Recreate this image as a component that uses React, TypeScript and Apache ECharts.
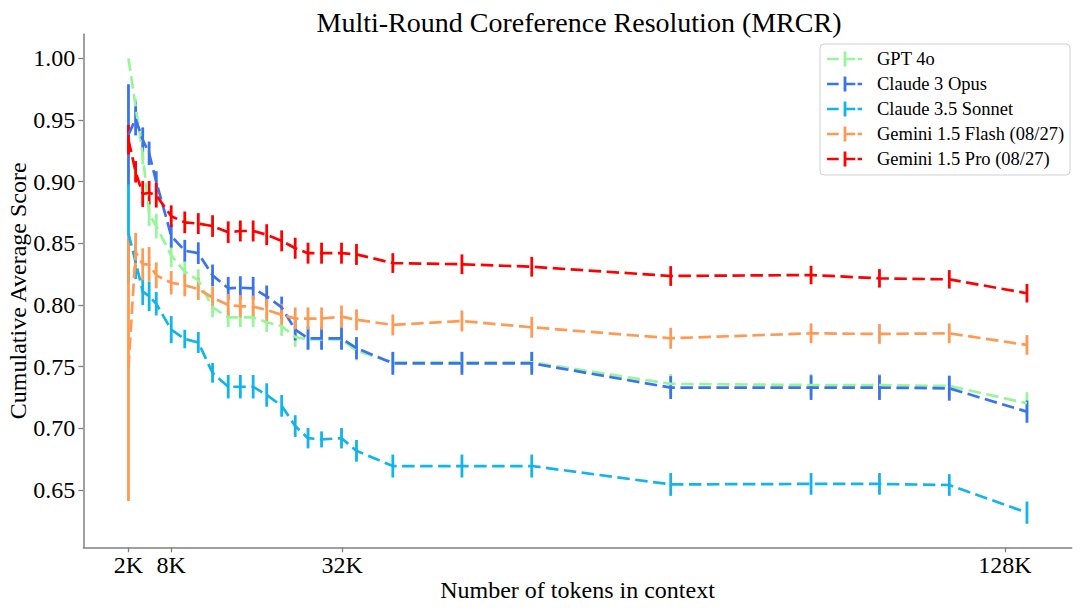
import React, { useEffect, useRef } from "react";
import * as echarts from "echarts";

// x positions in K tokens (1K = 1024 tokens)
const xK = [2, 3, 4, 4.9, 5.9, 8, 9.9, 11.8, 13.8, 16, 17.7, 19.5, 21.4, 23.5, 25.4, 27.2, 29.1, 31.9, 34, 39.1, 48.8, 58.6, 78.1, 97.8, 107.4, 117.2, 128.1];

const seriesNames = ["GPT 4o", "Claude 3 Opus", "Claude 3.5 Sonnet", "Gemini 1.5 Flash (08/27)", "Gemini 1.5 Pro (08/27)"];
const seriesColors = ["#98F59C", "#3B73EF", "#12B4EA", "#FF9A55", "#FF0000"];

const gpt4o = [1.0, 0.961, 0.922, 0.874, 0.864, 0.84, 0.827, 0.82, 0.798, 0.79, 0.79, 0.79, 0.786, 0.783, 0.774, 0.772, 0.772, 0.772, 0.763, 0.7535, 0.7535, 0.7535, 0.736, 0.7351, 0.735, 0.7343, 0.7203];
const gpt4oErr = [0.0, 0.006, 0.008, 0.01, 0.01, 0.0095, 0.009, 0.009, 0.008, 0.008, 0.008, 0.008, 0.008, 0.008, 0.008, 0.008, 0.008, 0.008, 0.008, 0.008, 0.008, 0.008, 0.008, 0.009, 0.009, 0.009, 0.009];

const opus = [0.938, 0.951, 0.934, 0.923, 0.9, 0.856, 0.844, 0.842, 0.824, 0.8135, 0.814, 0.8135, 0.807, 0.798, 0.78, 0.773, 0.773, 0.773, 0.765, 0.7527, 0.7527, 0.7527, 0.733, 0.733, 0.733, 0.7324, 0.7135];
const opusErr = [0.041, 0.0135, 0.01, 0.0095, 0.0085, 0.0095, 0.0088, 0.0088, 0.0088, 0.0093, 0.0093, 0.0093, 0.0088, 0.0088, 0.0088, 0.0093, 0.0093, 0.0093, 0.009, 0.0093, 0.0093, 0.0093, 0.0093, 0.01, 0.01, 0.01, 0.009];

const sonnet = [0.858, 0.835, 0.811, 0.807, 0.801, 0.78, 0.7724, 0.7696, 0.745, 0.7337, 0.7337, 0.7337, 0.727, 0.7182, 0.7018, 0.692, 0.691, 0.692, 0.6817, 0.6694, 0.6694, 0.6694, 0.6545, 0.6549, 0.6549, 0.654, 0.6316];
const sonnetErr = [0.04, 0.014, 0.011, 0.012, 0.0095, 0.011, 0.0075, 0.0085, 0.008, 0.0095, 0.0095, 0.0095, 0.0095, 0.0088, 0.0088, 0.0083, 0.0065, 0.0083, 0.0088, 0.0093, 0.0093, 0.0093, 0.0093, 0.0088, 0.0088, 0.0088, 0.009];

const flash = [0.749, 0.843, 0.833, 0.833, 0.824, 0.818, 0.816, 0.813, 0.806, 0.8, 0.799, 0.7986, 0.796, 0.792, 0.789, 0.789, 0.789, 0.7905, 0.788, 0.7838, 0.787, 0.7819, 0.773, 0.777, 0.7765, 0.777, 0.7676];
const flashErr = [0.108, 0.0155, 0.013, 0.014, 0.0105, 0.0095, 0.009, 0.009, 0.009, 0.009, 0.009, 0.009, 0.009, 0.009, 0.009, 0.009, 0.009, 0.009, 0.0085, 0.0085, 0.0085, 0.0085, 0.0085, 0.008, 0.008, 0.008, 0.008];

const pro = [0.934, 0.908, 0.89, 0.891, 0.889, 0.872, 0.867, 0.866, 0.864, 0.859, 0.86, 0.86, 0.857, 0.852, 0.846, 0.842, 0.842, 0.842, 0.841, 0.834, 0.833, 0.831, 0.8235, 0.8243, 0.8216, 0.8208, 0.8095];
const proErr = [0.012, 0.0087, 0.0105, 0.0095, 0.01, 0.0088, 0.0088, 0.0085, 0.0088, 0.0088, 0.0085, 0.0085, 0.0085, 0.0085, 0.0085, 0.0085, 0.0085, 0.0085, 0.0085, 0.008, 0.008, 0.008, 0.008, 0.0075, 0.0075, 0.0075, 0.0075];

const allValues = [gpt4o, opus, sonnet, flash, pro];
const allErrors = [gpt4oErr, opusErr, sonnetErr, flashErr, proErr];

const xTickValues = [2, 8, 32, 125];
const xTickLabels = ["2K", "8K", "32K", "128K"];
const yTickValues = [0.65, 0.7, 0.75, 0.8, 0.85, 0.9, 0.95, 1.0];

const FONT = "'Liberation Serif', 'Times New Roman', 'DejaVu Serif', serif";
const LEGEND_ICON =
  "path://M0,6.2h11.7v2.6H0z M16.6,0h2.8v15h-2.8z M19.4,6.2h8.9v2.6h-8.9z M30.6,6.2h4.4v2.6h-4.4z";

export default function App() {
  const ref = useRef<HTMLDivElement>(null);

  useEffect(() => {
    if (!ref.current) return;
    const chart = echarts.init(ref.current, undefined, { renderer: "svg" });

    const series: any[] = [];
    seriesNames.forEach((name, i) => {
      const color = seriesColors[i];
      const vals = allValues[i];
      const errs = allErrors[i];
      series.push({
        type: "line",
        name: name + " line",
        data: xK.map((x, j) => [x, vals[j]]),
        symbol: "none",
        lineStyle: { color, width: 2.7, type: [12.5, 5.5] },
        itemStyle: { color },
        z: 2,
        silent: true,
      });
      series.push({
        type: "custom",
        name,
        data: xK.map((x, j) => [x, vals[j], errs[j]]),
        encode: { x: 0, y: 1 },
        itemStyle: { color },
        z: 2,
        silent: true,
        renderItem: (params: any, api: any) => {
          const x = api.value(0);
          const y = api.value(1);
          const e = api.value(2);
          const p1 = api.coord([x, y + e]);
          const p2 = api.coord([x, y - e]);
          return {
            type: "line",
            shape: { x1: p1[0], y1: p1[1], x2: p2[0], y2: p2[1] },
            style: { stroke: color, lineWidth: 2.8, fill: null },
          };
        },
      });
    });

    const option: any = {
      animation: false,
      backgroundColor: "#ffffff",
      title: {
        text: "Multi-Round Coreference Resolution (MRCR)",
        left: 574,
        top: 3,
        textAlign: "center",
        textStyle: { fontFamily: FONT, fontSize: 28, fontWeight: "normal", color: "#000" },
      },
      legend: {
        orient: "vertical",
        left: 820,
        top: 44,
        padding: [5, 6, 6, 7],
        itemGap: 5,
        itemWidth: 35,
        itemHeight: 15,
        backgroundColor: "rgba(255,255,255,0.8)",
        borderColor: "#d0d0d0",
        borderWidth: 1,
        borderRadius: 4,
        textStyle: { fontFamily: FONT, fontSize: 18.5, color: "#000", lineHeight: 20, padding: [0, 0, 0, 10] },
        data: seriesNames.map((n, i) => ({ name: n, icon: LEGEND_ICON, itemStyle: { color: seriesColors[i] } })),
        selectedMode: false,
      },
      grid: { left: 83.3, right: 8.3, top: 34.3, bottom: 64.7, containLabel: false, outerBoundsMode: "none" },
      xAxis: {
        type: "value",
        min: -4.34,
        max: 134.38,
        name: "Number of tokens in context",
        nameLocation: "middle",
        nameGap: 31,
        nameMoveOverlap: false,
        nameTextStyle: { fontFamily: FONT, fontSize: 24, color: "#000" },
        axisLine: { show: true, onZero: false, lineStyle: { color: "#808080", width: 1.5 } },
        axisTick: { show: true, length: 5, customValues: xTickValues, lineStyle: { color: "#808080", width: 1.3 } },
        axisLabel: {
          customValues: xTickValues,
          margin: 6,
          fontFamily: FONT,
          fontSize: 24,
          color: "#000",
          formatter: (v: number) => {
            const idx = xTickValues.findIndex((t) => Math.abs(t - v) < 1e-6);
            return idx >= 0 ? xTickLabels[idx] : "";
          },
        },
        splitLine: { show: false },
      },
      yAxis: {
        type: "value",
        min: 0.6035,
        max: 1.0195,
        name: "Cumulative Average Score",
        nameLocation: "middle",
        nameGap: 53,
        nameMoveOverlap: false,
        nameTextStyle: { fontFamily: FONT, fontSize: 24, color: "#000" },
        axisLine: { show: true, onZero: false, lineStyle: { color: "#808080", width: 1.5 } },
        axisTick: { show: true, length: 5, customValues: yTickValues, lineStyle: { color: "#808080", width: 1.3 } },
        axisLabel: {
          customValues: yTickValues,
          margin: 8,
          fontFamily: FONT,
          fontSize: 24,
          color: "#000",
          formatter: (v: number) => v.toFixed(2),
        },
        splitLine: { show: false },
      },
      series,
    };

    chart.setOption(option);
    return () => {
      chart.dispose();
    };
  }, []);

  return (
    <div
      ref={ref}
      style={{ position: "fixed", left: 0, top: 0, width: 1080, height: 612, background: "#fff" }}
    />
  );
}
